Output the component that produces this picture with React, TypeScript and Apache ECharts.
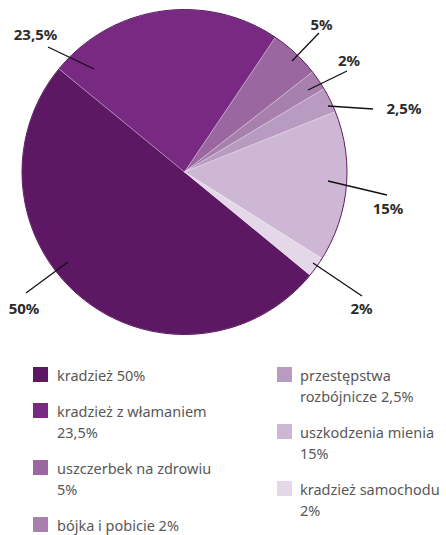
import React, { useEffect, useRef } from 'react';
import * as echarts from 'echarts';

const categories = [
  'kradzież',
  'kradzież z włamaniem',
  'uszczerbek na zdrowiu',
  'bójka i pobicie',
  'przestępstwa rozbójnicze',
  'uszkodzenia mienia',
  'kradzież samochodu',
];
const values = [50, 23.5, 5, 2, 2.5, 15, 2];
const valueLabels = ['50%', '23,5%', '5%', '2%', '2,5%', '15%', '2%'];
const legendLabels = [
  'kradzież 50%',
  'kradzież z włamaniem\n23,5%',
  'uszczerbek na zdrowiu\n5%',
  'bójka i pobicie 2%',
  'przestępstwa\nrozbójnicze 2,5%',
  'uszkodzenia mienia\n15%',
  'kradzież samochodu\n2%',
];
const colors = ['#5c1862', '#782a83', '#9a67a0', '#a880ae', '#b99ac1', '#cdb7d5', '#e4d8e8'];

// layout (pixels)
const CX = 184.5;
const CY = 172;
const R = 162.5;
const START_ANGLE = 320.6;
// label geometry relative to the pie centre: line start, line end, text centre
const labelGeom: { s: number[]; e: number[]; t: number[] }[] = [
  { s: [-116.5, 90], e: [-158.5, 121], t: [-160.5, 135.5] },
  { s: [-90.5, -103], e: [-136.5, -125], t: [-149, -138.5] },
  { s: [107.5, -111], e: [134.5, -139], t: [137, -148.5] },
  { s: [123.5, -82], e: [162.5, -101], t: [164.5, -112] },
  { s: [143.5, -66], e: [188.5, -63], t: [219.5, -64.5] },
  { s: [143.5, 9], e: [202.5, 23], t: [203.5, 35.5] },
  { s: [128.5, 91], e: [177.5, 124], t: [177, 135.5] },
];

const legendColumns = [
  { items: [0, 1, 2, 3], swatchX: 33, textX: 57 },
  { items: [4, 5, 6], swatchX: 277, textX: 300 },
];
const LEGEND_TOP = 367;
const LINE_H = 21;
const ITEM_ADV = 36;
const SW = 15;

export default function App() {
  const ref = useRef<HTMLDivElement>(null);

  useEffect(() => {
    if (!ref.current) return;
    const chart = echarts.init(ref.current, undefined, { renderer: 'svg' });

    const legendGraphics: any[] = [];
    legendColumns.forEach((col) => {
      let y = LEGEND_TOP;
      col.items.forEach((i) => {
        const text = legendLabels[i];
        const nLines = text.split('\n').length;
        legendGraphics.push({
          type: 'rect',
          shape: { x: col.swatchX, y, width: SW, height: SW },
          style: { fill: colors[i] },
          silent: true,
        });
        legendGraphics.push({
          type: 'text',
          x: col.textX,
          y: y + SW / 2 - LINE_H / 2,
          style: {
            text,
            fill: '#585858',
            font: '14.5px "Noto Sans"',
            lineHeight: LINE_H,
            verticalAlign: 'top',
            align: 'left',
          },
          silent: true,
        });
        y += ITEM_ADV + (nLines - 1) * LINE_H;
      });
    });

    const common = {
      type: 'pie',
      center: [CX, CY],
      radius: [0, R],
      startAngle: START_ANGLE,
      clockwise: true,
      avoidLabelOverlap: false,
      emphasis: { disabled: true },
    };

    chart.setOption({
      animation: false,
      graphic: legendGraphics,
      series: [
        {
          ...common,
          z: 2,
          silent: true,
          label: { show: false },
          labelLine: { show: false },
          data: categories.map((name, i) => ({
            name,
            value: values[i],
            itemStyle: {
              color: colors[i],
              borderColor: 'rgba(255,255,255,0.3)',
              borderWidth: 0.8,
            },
          })),
        },
        {
          type: 'pie',
          center: [CX, CY],
          radius: [0, R],
          z: 3,
          silent: true,
          emphasis: { disabled: true },
          label: { show: false },
          labelLine: { show: false },
          data: [
            {
              value: 1,
              itemStyle: { color: 'rgba(0,0,0,0)', borderColor: '#5c1862', borderWidth: 1 },
            },
          ],
        },
        {
          ...common,
          z: 4,
          silent: true,
          data: categories.map((name, i) => ({
            name,
            value: values[i],
            itemStyle: { color: 'rgba(0,0,0,0)', borderWidth: 0 },
          })),
          label: {
            show: true,
            position: 'outside',
            formatter: (p: any) => valueLabels[p.dataIndex],
            color: '#2b2b2b',
            fontFamily: '"Noto Sans"',
            fontWeight: 'bold',
            fontSize: 15,
          },
          labelLine: {
            show: true,
            length: 10,
            length2: 10,
            lineStyle: { color: '#111111', width: 1.3 },
          },
          labelLayout: (params: any) => {
            const g = labelGeom[params.dataIndex];
            const ex = CX + g.e[0];
            const ey = CY + g.e[1];
            return {
              x: CX + g.t[0],
              y: CY + g.t[1],
              align: 'center',
              verticalAlign: 'middle',
              labelLinePoints: [
                [CX + g.s[0], CY + g.s[1]],
                [ex, ey],
                [ex, ey],
              ],
            };
          },
        },
      ],
    });

    return () => chart.dispose();
  }, []);

  return (
    <div
      ref={ref}
      style={{ position: 'absolute', left: 0, top: 0, width: 446, height: 535 }}
    />
  );
}
